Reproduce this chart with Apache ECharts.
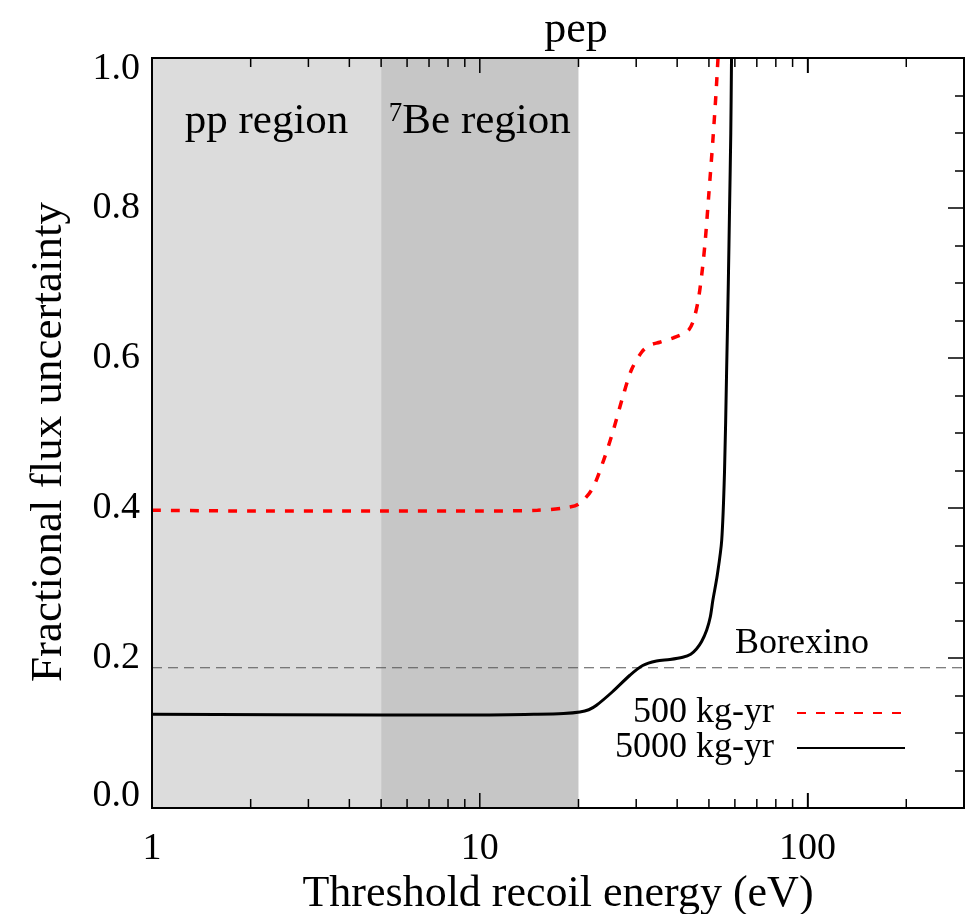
<!DOCTYPE html>
<html><head><meta charset="utf-8">
<script src="https://cdn.jsdelivr.net/npm/echarts@6/dist/echarts.min.js"></script>
<style>html,body{margin:0;padding:0;background:#fff}#c{width:973px;height:914px}</style>
</head><body><div id="c"></div>
<script>
const FONT = "'Liberation Serif','DejaVu Serif',serif";
const seriesNames = ['500 kg-yr', '5000 kg-yr'];
const red500 = [[1,0.397],[2,0.396],[5,0.396],[10,0.396],[15,0.397],[18,0.400],[20,0.405],[22,0.425],[23.7,0.46],[25.4,0.50],[27.3,0.548],[29,0.584],[31.2,0.608],[33,0.617],[35.4,0.621],[39,0.627],[41.6,0.632],[43.5,0.638],[45,0.652],[46.5,0.68],[47.8,0.72],[48.8,0.76],[50,0.82],[51.4,0.89],[52.5,0.95],[53.3,1.0]];
const black5000 = [[1,0.125],[5,0.124],[10,0.124],[15,0.125],[18,0.126],[20.2,0.128],[21.5,0.131],[22.7,0.137],[25.4,0.155],[28.7,0.177],[31.4,0.19],[34.6,0.196],[38,0.198],[41.6,0.201],[44,0.205],[45.8,0.212],[47.5,0.222],[49.2,0.237],[50.5,0.255],[51.4,0.277],[53,0.31],[54.7,0.357],[55.8,0.45],[56.6,0.58],[57.3,0.7],[57.8,0.80],[58.3,0.9],[58.6,1.0]];
const borexino = 0.187;
const regions = [[1,5,'pp'],[5,20,'be']];
const majorTicks = [10,100];
const minorTicks = [2,3,4,5,6,7,8,9,20,30,40,50,60,70,80,90,200];
const xMin = 1, xMax = 300, yMin = 0, yMax = 1;

const chart = echarts.init(document.getElementById('c'));
const axisLineStyle = {color:'#000', width:2};
chart.setOption({
  animation:false,
  title:{text:'pep', left:571, top:3, textAlign:'center', textStyle:{fontFamily:FONT, fontSize:44, fontWeight:'normal', color:'#000'}},
  grid:{left:152, right:9, top:58, bottom:106, containLabel:false, outerBoundsMode:'none',
        show:true, borderColor:'#000', borderWidth:2, backgroundColor:'rgba(0,0,0,0)', z:20},
  legend:{
    data:seriesNames, orient:'vertical', align:'right', right:62, top:690,
    itemWidth:108, itemHeight:14, itemGap:-1,
    itemStyle:{color:'rgba(0,0,0,0)', borderWidth:0},
    textStyle:{fontFamily:FONT, fontSize:36, color:'#000', padding:[0,18,0,0]}
  },
  xAxis:[
    {type:'log', min:xMin, max:xMax, logBase:10, position:'bottom',
     axisLine:{show:true, onZero:false, lineStyle:{color:'#000', width:2}},
     axisTick:{show:true, inside:true, length:15, lineStyle:{color:'#000', width:1.5}},
     axisLabel:{fontFamily:FONT, fontSize:38, color:'#000', margin:22, showMaxLabel:false, formatter:v=>String(v)},
     splitLine:{show:false},
     name:'Threshold recoil energy (eV)', nameLocation:'middle', nameGap:64,
     nameTextStyle:{fontFamily:FONT, fontSize:44, color:'#000'}},
    {type:'log', min:xMin, max:xMax, logBase:10, position:'top',
     axisLine:{show:true, onZero:false, lineStyle:{color:'#000', width:2}},
     axisTick:{show:true, inside:true, length:15, lineStyle:{color:'#000', width:1.5}},
     axisLabel:{show:false}, splitLine:{show:false}}
  ],
  yAxis:[
    {type:'value', min:yMin, max:yMax, interval:0.2, position:'left',
     axisLine:{show:true, onZero:false, lineStyle:axisLineStyle},
     axisTick:{inside:true, length:16, lineStyle:{color:'#000', width:1.5}},
     minorTick:{show:true, splitNumber:4, length:9, lineStyle:{color:'#000', width:1.5}},
     axisLabel:{fontFamily:FONT, fontSize:38, color:'#000', margin:12,
       formatter:v=>{const s=v.toFixed(1); return v===yMax ? '{mx|'+s+'}' : (v===yMin ? '{mn|'+s+'}' : s);},
       rich:{mx:{fontFamily:FONT, fontSize:38, color:'#000', padding:[22,0,0,0]},
             mn:{fontFamily:FONT, fontSize:38, color:'#000', padding:[0,0,24,0]}}},
     splitLine:{show:false},
     name:'Fractional flux uncertainty', nameLocation:'middle', nameGap:80,
     nameTextStyle:{fontFamily:FONT, fontSize:45, color:'#000', padding:[0,18,0,0]}},
    {type:'value', min:yMin, max:yMax, interval:0.2, position:'right',
     axisLine:{show:true, onZero:false, lineStyle:axisLineStyle},
     axisTick:{inside:true, length:16, lineStyle:{color:'#000', width:1.5}},
     minorTick:{show:true, splitNumber:4, length:9, lineStyle:{color:'#000', width:1.5}},
     axisLabel:{show:false}, splitLine:{show:false}}
  ],
  graphic:[
    {type:'text', left:735, top:626, style:{text:'Borexino', fontFamily:FONT, fontSize:36, fill:'#000'}, z:100}
  ],
  series:[
    {type:'line', name:'regions', data:[], silent:true, z:0,
     markArea:{silent:true, data:regions.map(r=>[
       {xAxis:r[0], itemStyle:{color: r[2]==='pp' ? '#dcdcdc' : '#c6c6c6'},
        label:{show:true, position:'insideTop', distance:42,
          formatter: r[2]==='pp' ? '{t|pp region}' : '{s|7}{t|Be region}',
          rich:{t:{fontFamily:FONT, fontSize:43, color:'#000'}, s:{fontFamily:FONT, fontSize:27, color:'#000', verticalAlign:'top', padding:[0,0,16,0]}}}},
       {xAxis:r[1]}
     ])}},
    {type:'line', name:'borexino', data:[[xMin,borexino],[xMax,borexino]], symbol:'none', silent:true, z:3,
     lineStyle:{color:'#555', width:1.2, type:[10,6]}},
    {type:'line', name:seriesNames[0], data:red500, symbol:'none', smooth:0.3, z:5,
     lineStyle:{color:'#ff0000', width:3.5, type:[9,10]}, itemStyle:{color:'#ff0000'}},
    {type:'line', name:seriesNames[1], data:black5000, symbol:'none', smooth:0.3, z:6,
     lineStyle:{color:'#000', width:3}, itemStyle:{color:'#000'}},
    {type:'custom', name:'xTicks', silent:true, z:10, clip:false,
     data:majorTicks.map(v=>[v,1]).concat(minorTicks.map(v=>[v,0])),
     encode:{x:0},
     renderItem:function(params, api){
       const v = api.value(0);
       const len = api.value(1) ? 15 : 9;
       const p = api.coord([v, 0.5]);
       const cs = params.coordSys;
       const st = {stroke:'#000', lineWidth:1.5};
       return {type:'group', children:[
         {type:'line', shape:{x1:p[0], y1:cs.y+cs.height, x2:p[0], y2:cs.y+cs.height-len}, style:st},
         {type:'line', shape:{x1:p[0], y1:cs.y, x2:p[0], y2:cs.y+len}, style:st}
       ]};
     }}
  ]
});
</script></body></html>
